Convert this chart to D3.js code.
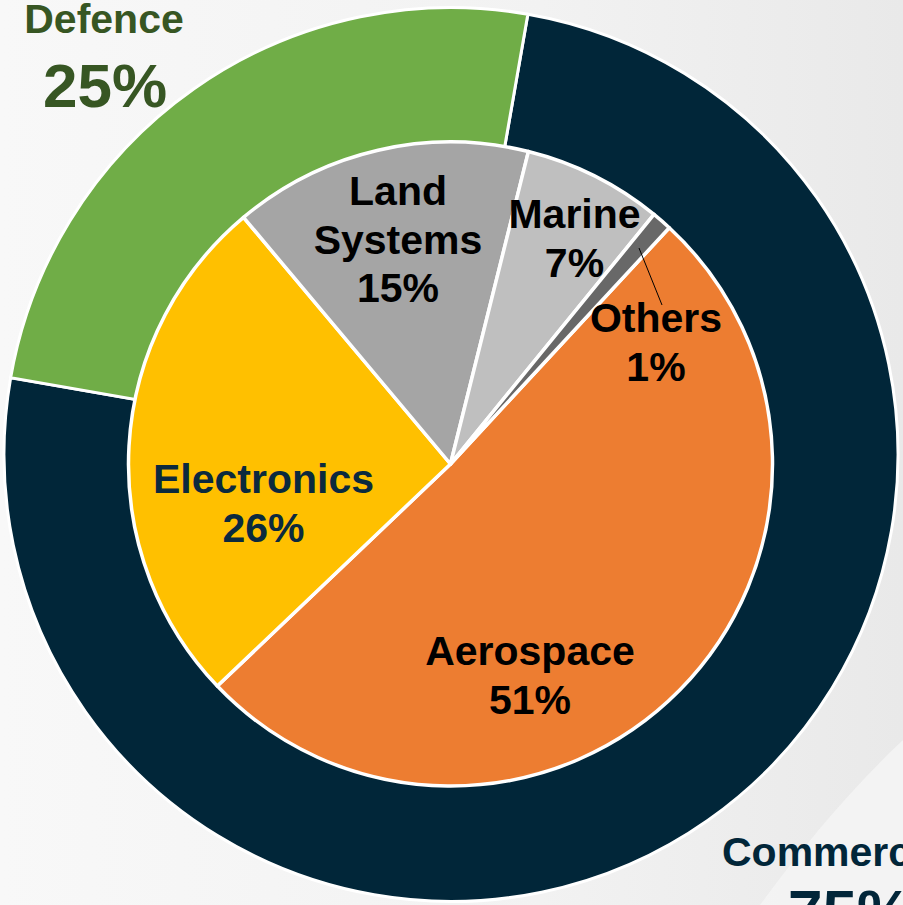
<!DOCTYPE html>
<html>
<head>
<meta charset="utf-8">
<script src="https://cdn.jsdelivr.net/npm/d3@7"></script>
<style>
  html, body { margin: 0; padding: 0; background: #f2f2f2; }
  svg { display: block; }
  text { font-family: "Liberation Sans", Arial, sans-serif; font-weight: bold; }
</style>
</head>
<body>
<svg id="chart" width="903" height="905"></svg>
<script>
// ---- data ----
const outerCategories = ["Commercial", "Defence"];
const outerValues = [75, 25];
const innerCategories = ["Aerospace", "Electronics", "Land Systems", "Marine", "Others"];
const innerValues = [51, 26, 15, 7, 1];

// ---- styles / layout ----
const outerColors = { "Commercial": "#012639", "Defence": "#70ad47" };
const innerColors = { "Aerospace": "#ed7d31", "Electronics": "#ffc000", "Land Systems": "#a5a5a5", "Marine": "#bfbfbf", "Others": "#686868" };
const innerTextColors = { "Aerospace": "#000", "Electronics": "#0b2a3e", "Land Systems": "#000", "Marine": "#000", "Others": "#000" };
const innerLabelLines = { "Land Systems": ["Land", "Systems"] };
const innerLabelPos = {
  "Aerospace": [530, 665],
  "Electronics": [263.5, 493],
  "Land Systems": [398, 205],
  "Marine": [574.5, 228],
  "Others": [656, 332]
};
const deg = Math.PI / 180;

const svg = d3.select("#chart");
const W = 903, H = 905;

// background
const defs = svg.append("defs");
const bg = defs.append("linearGradient").attr("id", "bg").attr("x1", "0").attr("y1", "0").attr("x2", "1").attr("y2", "0");
bg.append("stop").attr("offset", "0").attr("stop-color", "#f8f8f8");
bg.append("stop").attr("offset", "0.6").attr("stop-color", "#f2f2f2");
bg.append("stop").attr("offset", "1").attr("stop-color", "#e9e9e9");
svg.append("rect").attr("width", W).attr("height", H).attr("fill", "url(#bg)");
svg.append("path")
  .attr("d", "M903,740 L903,905 L760,905 C800,850 850,790 903,740 Z")
  .attr("fill", "#f4f4f4").attr("opacity", 0.9);

// outer ring
const outerPie = d3.pie().sort(null).startAngle(9.9 * deg).endAngle(9.9 * deg + 2 * Math.PI);
const outerArc = d3.arc().innerRadius(290).outerRadius(447);
const og = svg.append("g").attr("transform", "translate(451,454.5)");
og.selectAll("path")
  .data(outerPie(outerValues))
  .join("path")
  .attr("d", outerArc)
  .attr("fill", (d, i) => outerColors[outerCategories[i]])
  .attr("stroke", "#fff")
  .attr("stroke-width", 3);

// inner pie
const innerPie = d3.pie().sort(null).startAngle(42.8 * deg).endAngle(42.8 * deg + 2 * Math.PI);
const innerArc = d3.arc().innerRadius(0).outerRadius(322);
const ig = svg.append("g").attr("transform", "translate(450.5,464)");
ig.selectAll("path")
  .data(innerPie(innerValues))
  .join("path")
  .attr("d", innerArc)
  .attr("fill", (d, i) => innerColors[innerCategories[i]])
  .attr("stroke", "#fff")
  .attr("stroke-width", 3.5)
  .attr("stroke-linejoin", "round");

// leader line for Others
svg.append("line")
  .attr("x1", 639).attr("y1", 248).attr("x2", 662).attr("y2", 305)
  .attr("stroke", "#000").attr("stroke-width", 1);

// inner labels
const lineH = 48.5;
innerCategories.forEach((c, i) => {
  const lines = (innerLabelLines[c] || [c]).concat([innerValues[i] + "%"]);
  const [x, y] = innerLabelPos[c];
  const t = svg.append("text")
    .attr("text-anchor", "middle")
    .attr("font-size", 41)
    .attr("fill", innerTextColors[c]);
  lines.forEach((s, k) => {
    t.append("tspan").attr("x", x).attr("y", y + k * lineH).text(s);
  });
});

// outer labels
svg.append("text").attr("x", 104).attr("y", 33).attr("text-anchor", "middle")
  .attr("font-size", 41).attr("fill", "#375623").text(outerCategories[1]);
svg.append("text").attr("x", 105).attr("y", 107).attr("text-anchor", "middle")
  .attr("font-size", 62).attr("fill", "#375623").text(outerValues[1] + "%");

svg.append("text").attr("x", 722).attr("y", 866).attr("text-anchor", "start")
  .attr("font-size", 41).attr("fill", "#012639").text(outerCategories[0]);
svg.append("text").attr("x", 788).attr("y", 933).attr("text-anchor", "start")
  .attr("font-size", 62).attr("fill", "#012639").text(outerValues[0] + "%");
</script>
</body>
</html>
